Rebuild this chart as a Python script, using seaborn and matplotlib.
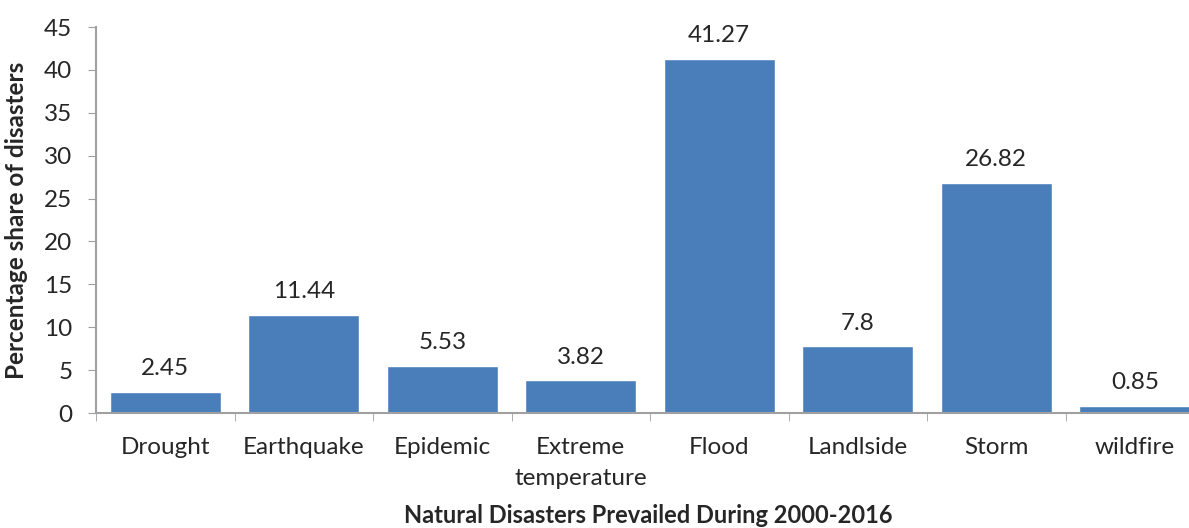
import numpy as np
import pandas as pd
import matplotlib.pyplot as plt
import seaborn as sns

disasters = ["Drought", "Earthquake", "Epidemic", "Extreme\ntemperature",
             "Flood", "Landlside", "Storm", "wildfire"]
share = [2.45, 11.44, 5.53, 3.82, 41.27, 7.8, 26.82, 0.85]
share_labels = ["2.45", "11.44", "5.53", "3.82", "41.27", "7.8", "26.82", "0.85"]

df = pd.DataFrame({"disaster": disasters, "share": share})

sns.set_style("white")
plt.rcParams["font.family"] = ["Lato", "DejaVu Sans"]

fig = plt.figure(figsize=(11.89, 5.28), dpi=100)
ax = fig.add_axes([96 / 1189, 115 / 528, 1108 / 1189, 386 / 528])

sns.barplot(data=df, x="disaster", y="share", color="#4a7ebb", saturation=1,
            width=0.8, ax=ax)
ax.bar_label(ax.containers[0], labels=share_labels, padding=9, fontsize=17.5)

ax.set_xlim(-0.5, 7.5)
ax.set_ylim(0, 45)
ax.set_yticks(range(0, 50, 5))
ax.set_xticks(np.arange(-0.5, 8, 1), minor=True)
for lbl in ax.get_xticklabels():
    lbl.set_linespacing(1.6)
ax.tick_params(axis="x", which="major", length=0, labelsize=17.5, pad=17)
ax.tick_params(axis="x", which="minor", length=6, color="#a0a0a0", direction="out", bottom=True)
ax.tick_params(axis="y", length=6, color="#a0a0a0", direction="out", left=True, labelsize=17.5, pad=11)

for side in ["top", "right"]:
    ax.spines[side].set_visible(False)
for side in ["left", "bottom"]:
    ax.spines[side].set_color("#a0a0a0")
    ax.spines[side].set_linewidth(1.5)

ax.set_xlabel("Natural Disasters Prevailed During 2000-2016", fontsize=17,
              fontweight="bold")
ax.xaxis.set_label_coords(552 / 1108, -0.236)
ax.set_ylabel("Percentage share of disasters", fontsize=17.5, fontweight="bold")
ax.yaxis.set_label_coords(-0.061, 0.5)

fig.savefig("out.png", dpi=100)
